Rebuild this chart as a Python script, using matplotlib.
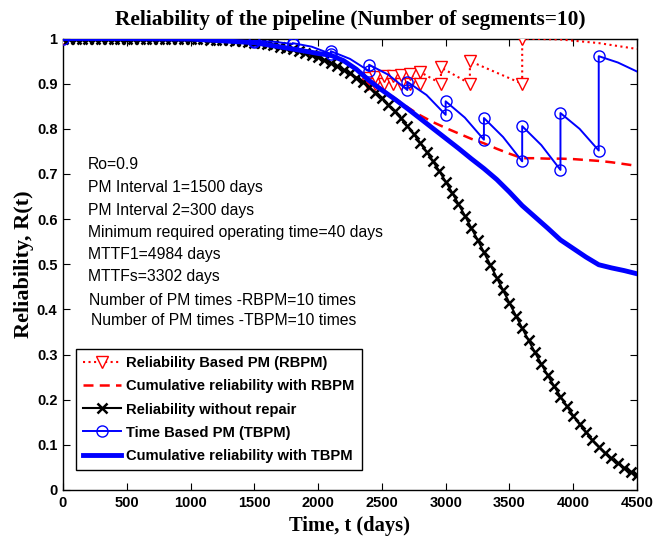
import numpy as np
import matplotlib
matplotlib.use("Agg")
import matplotlib.pyplot as plt

# ---------------- data ----------------
t_grid = np.arange(0, 4501, 50)
r_no_repair = [1.0, 1.0, 1.0, 1.0, 1.0, 1.0, 1.0, 1.0, 1.0, 1.0, 1.0,
               0.9999, 0.9999, 0.9999, 0.9999, 0.9998, 0.9997, 0.9996, 0.9994, 0.9993, 0.9990,
               0.9987, 0.9983, 0.9979, 0.9973, 0.9967, 0.9958, 0.9949, 0.9938, 0.9925, 0.9910,
               0.9893, 0.9873, 0.9851, 0.9824, 0.9795, 0.9762, 0.9725, 0.9682, 0.9636, 0.9583,
               0.9525, 0.9460, 0.9390, 0.9311, 0.9227, 0.9133, 0.9033, 0.8922, 0.8804, 0.8674,
               0.8537, 0.8387, 0.8231, 0.8061, 0.7883, 0.7691, 0.7493, 0.7282, 0.7064, 0.6832,
               0.6590, 0.6336, 0.6080, 0.5812, 0.5543, 0.5265, 0.4988, 0.4705, 0.4425, 0.4142,
               0.3864, 0.3585, 0.3316, 0.3048, 0.2791, 0.2538, 0.2300, 0.2069, 0.1853, 0.1647,
               0.1455, 0.1275, 0.1110, 0.0958, 0.0822, 0.0698, 0.0589, 0.0491, 0.0407, 0.0333]

# Reliability based PM (RBPM)
rbpm_pm_times = [2390, 2450, 2515, 2585, 2650, 2720, 2800, 2963, 3190, 3600]
rbpm_t = [0, 500, 1000, 1500, 1800, 2000, 2200, 2300,
          2390, 2390, 2450, 2450, 2515, 2515, 2585, 2585, 2650, 2650,
          2720, 2720, 2800, 2800, 2963, 2963, 3190, 3190, 3600, 3600,
          3900, 4200, 4500]
rbpm_r = [1.0, 1.0, 0.999, 0.991, 0.976, 0.958, 0.931, 0.913,
          0.900, 0.913, 0.900, 0.915, 0.900, 0.917, 0.900, 0.918, 0.900, 0.920,
          0.900, 0.922, 0.900, 0.926, 0.900, 0.936, 0.900, 0.950, 0.900, 1.000,
          0.998, 0.990, 0.977]

# Cumulative reliability with RBPM
rbpm_cum_t = [0, 500, 1000, 1500, 1800, 2000, 2200, 2300, 2390, 2500, 2600, 2700,
              2800, 2900, 3000, 3100, 3200, 3300, 3400, 3500, 3600, 3700, 3800,
              3900, 4000, 4100, 4200, 4300, 4400, 4500]
rbpm_cum_r = [1.0, 1.0, 0.999, 0.991, 0.976, 0.958, 0.931, 0.913, 0.900, 0.887, 0.868, 0.848,
              0.830, 0.815, 0.802, 0.790, 0.778, 0.768, 0.756, 0.745, 0.735, 0.735, 0.734,
              0.734, 0.733, 0.731, 0.729, 0.726, 0.722, 0.718]

# Time based PM (TBPM)
tbpm_pm_times = [1500, 1800, 2100, 2400, 2700, 3000, 3300, 3600, 3900, 4200]
tbpm_t = [0, 500, 1000, 1250, 1500,
          1500, 1650, 1800,
          1800, 1950, 2100,
          2100, 2250, 2400,
          2400, 2550, 2700,
          2700, 2850, 3000,
          3000, 3150, 3300,
          3300, 3450, 3600,
          3600, 3750, 3900,
          3900, 4050, 4200,
          4200, 4350, 4500]
tbpm_r = [1.0, 1.0, 0.999, 0.9967, 0.993,
          0.995, 0.993, 0.988,
          0.990, 0.982, 0.966,
          0.972, 0.955, 0.928,
          0.942, 0.920, 0.886,
          0.904, 0.875, 0.831,
          0.861, 0.825, 0.776,
          0.824, 0.782, 0.728,
          0.806, 0.764, 0.709,
          0.835, 0.800, 0.752,
          0.961, 0.947, 0.927]

# Cumulative reliability with TBPM
tbpm_cum_t = [0, 500, 1000, 1500, 1800, 2000, 2100, 2200, 2300, 2400, 2500, 2600, 2700,
              2800, 2900, 3000, 3100, 3200, 3300, 3400, 3500, 3600, 3700, 3800,
              3900, 4000, 4100, 4200, 4300, 4400, 4500]
tbpm_cum_r = [1.0, 1.0, 0.999, 0.991, 0.977, 0.967, 0.963, 0.951, 0.932, 0.907, 0.886, 0.866, 0.845,
              0.823, 0.801, 0.779, 0.757, 0.734, 0.712, 0.688, 0.660, 0.630, 0.605, 0.580,
              0.554, 0.535, 0.516, 0.499, 0.492, 0.486, 0.479]

x_ticks = [0, 500, 1000, 1500, 2000, 2500, 3000, 3500, 4000, 4500]
y_ticks = [0, 0.1, 0.2, 0.3, 0.4, 0.5, 0.6, 0.7, 0.8, 0.9, 1]
y_tick_labels = ["0", "0.1", "0.2", "0.3", "0.4", "0.5", "0.6", "0.7", "0.8", "0.9", "1"]

notes = ["Ro=0.9", "PM Interval 1=1500 days", "PM Interval 2=300 days",
         "Minimum required operating time=40 days", "MTTF1=4984 days",
         "MTTFs=3302 days", "Number of PM times -RBPM=10 times",
         "Number of PM times -TBPM=10 times"]
note_y = [0.721, 0.670, 0.620, 0.570, 0.522, 0.472, 0.420, 0.375]
note_x = [196, 196, 196, 196, 196, 196, 205, 222]

# ---------------- plot ----------------
SANS = "Liberation Sans"
SERIF = "Liberation Serif"

fig = plt.figure(figsize=(6.54, 5.41), dpi=100)
ax = fig.add_axes([0.0963, 0.0943, 0.8777, 0.8344])

rb_marks = [0] + [i for i, t in enumerate(rbpm_t) if t in rbpm_pm_times]
tb_marks = [0] + [i for i, t in enumerate(tbpm_t) if t in tbpm_pm_times]

ax.plot(rbpm_t, rbpm_r, color="red", linestyle=":", linewidth=1.5,
        marker="v", markersize=8, markerfacecolor="white", markeredgecolor="red",
        markeredgewidth=1.0, markevery=rb_marks, label="Reliability Based PM (RBPM)", zorder=3)
ax.plot(rbpm_cum_t, rbpm_cum_r, color="red", linestyle=(0, (4, 2.5)), linewidth=1.8,
        label="Cumulative reliability with RBPM", zorder=3)
ax.plot(t_grid, r_no_repair, color="black", linewidth=1.5, marker="x", markersize=7,
        markeredgewidth=1.8, label="Reliability without repair", zorder=4)
ax.plot(tbpm_t, tbpm_r, color="blue", linewidth=1.4, marker="o", markersize=8,
        markerfacecolor="none", markeredgecolor="blue", markeredgewidth=1.0,
        markevery=tb_marks, label="Time Based PM (TBPM)", zorder=5)
ax.plot(tbpm_cum_t, tbpm_cum_r, color="blue", linewidth=3.5,
        label="Cumulative reliability with TBPM", zorder=5)

ax.set_xlim(0, 4500)
ax.set_ylim(0, 1)
ax.set_xticks(x_ticks)
ax.set_xticklabels([str(v) for v in x_ticks], fontfamily=SANS, fontweight="bold", fontsize=10.5)
ax.set_yticks(y_ticks)
ax.set_yticklabels(y_tick_labels, fontfamily=SANS, fontweight="bold", fontsize=10.5)
ax.tick_params(direction="in", top=True, right=True, length=5, width=0.8, pad=4)
for s in ax.spines.values():
    s.set_linewidth(1.0)

ax.set_xlabel("Time, t (days)", fontfamily=SERIF, fontweight="bold", fontsize=14.8, labelpad=5)
ax.set_ylabel("Reliability, R(t)", fontfamily=SERIF, fontweight="bold", fontsize=16, labelpad=2)
ax.set_title("Reliability of the pipeline (Number of segments=10)", fontfamily=SERIF,
             fontweight="bold", fontsize=15.4, pad=10)

for txt, x, y in zip(notes, note_x, note_y):
    ax.text(x, y, txt, fontfamily=SANS, fontsize=11.3, va="center", ha="left")

leg = ax.legend(loc="lower left", bbox_to_anchor=(0.022, 0.044), borderaxespad=0,
                prop={"family": SANS, "weight": "bold", "size": 10.6},
                fancybox=False, edgecolor="black", framealpha=1, handlelength=2.55,
                labelspacing=0.62, borderpad=0.5, handletextpad=0.4)
leg.get_frame().set_linewidth(1.0)

fig.savefig("out.png", dpi=100)
